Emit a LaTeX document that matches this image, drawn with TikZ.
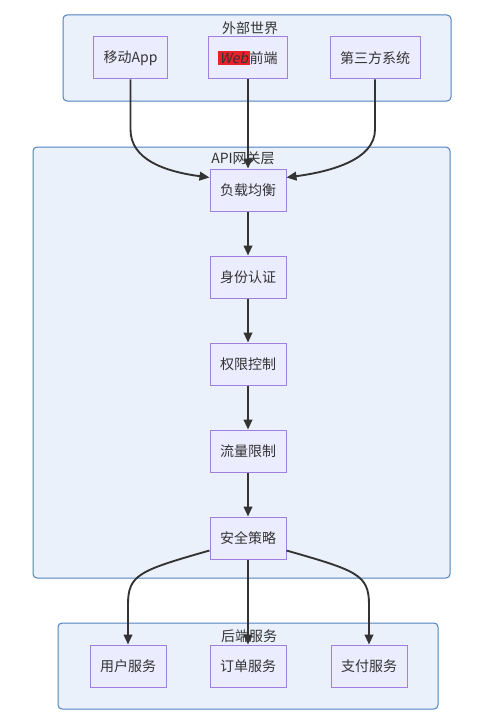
\documentclass[tikz,border=0pt]{standalone}
\usepackage{fontspec}
\setmainfont{Noto Sans CJK SC}[AutoFakeSlant=0.2]
\usetikzlibrary{arrows.meta,positioning,fit}

\definecolor{nodefill}{HTML}{ECECFF}
\definecolor{nodeline}{HTML}{A07FE0}
\definecolor{clusterfill}{HTML}{EAF1FB}
\definecolor{clusterline}{HTML}{4F80C0}
\definecolor{textgray}{HTML}{333333}
\definecolor{webred}{HTML}{E8202A}

\begin{document}
\begin{tikzpicture}[
    x=0.75pt, y=-0.75pt,
    box/.style={draw=nodeline, fill=nodefill, line width=0.75pt, align=center, minimum width=56pt, minimum height=31.5pt, inner xsep=7.5pt, font=\fontsize{10.5}{12}\selectfont, text=textgray},
    cluster/.style={draw=clusterline, fill=clusterfill, line width=0.75pt, rounded corners=3pt, inner sep=0pt},
    ctitle/.style={font=\fontsize{10.5}{12}\selectfont, text=textgray, inner sep=1pt},
    link/.style={-{Triangle[length=7.5pt, width=6.5pt]}, line width=1.4pt, draw=textgray}
]
\useasboundingbox (0,0) rectangle (502,724);

% groups
\node[cluster, fit={(63,15) (451,101)}] (world) {};
\node[cluster, fit={(33,147) (450,578)}] (gateway) {};
\node[cluster, fit={(58,623) (438,709)}] (backend) {};
\node[ctitle] (worldtitle) at (250,28) {外部世界};
\node[ctitle] (gatewaytitle) at (243,158) {API网关层};
\node[ctitle] (backendtitle) at (249,636) {后端服务};

% nodes
\node[box] (app) at (130.5,58) {移动App};
\node[box] (web) at (248,58) {{\setlength{\fboxsep}{1pt}\colorbox{webred}{\textit{Web}}}前端};
\node[box] (third) at (375,58) {第三方系统};

\node[box] (lb) at (248,190) {负载均衡};
\node[box, below=33pt of lb] (auth) {身份认证};
\node[box, below=33pt of auth] (perm) {权限控制};
\node[box, below=33pt of perm] (rate) {流量限制};
\node[box, below=33pt of rate] (sec) {安全策略};

\node[box] (user) at (128,666) {用户服务};
\node[box] (order) at (248,666) {订单服务};
\node[box] (pay) at (369,666) {支付服务};

% links
\draw[link] (app.south) -- ++(0,50) .. controls +(0,30) and +(-45,-6) .. (lb.162);
\draw[link] (web) -- (lb);
\draw[link] (third.south) -- ++(0,50) .. controls +(0,30) and +(45,-6) .. (lb.18);
\draw[link] (lb) -- (auth);
\draw[link] (auth) -- (perm);
\draw[link] (perm) -- (rate);
\draw[link] (rate) -- (sec);
\draw[link] (sec.198) .. controls +(-70,20) and +(0,-30) .. ([yshift=30pt]user.north) -- (user.north);
\draw[link] (sec) -- (order);
\draw[link] (sec.-18) .. controls +(70,20) and +(0,-30) .. ([yshift=30pt]pay.north) -- (pay.north);
\end{tikzpicture}
\end{document}
